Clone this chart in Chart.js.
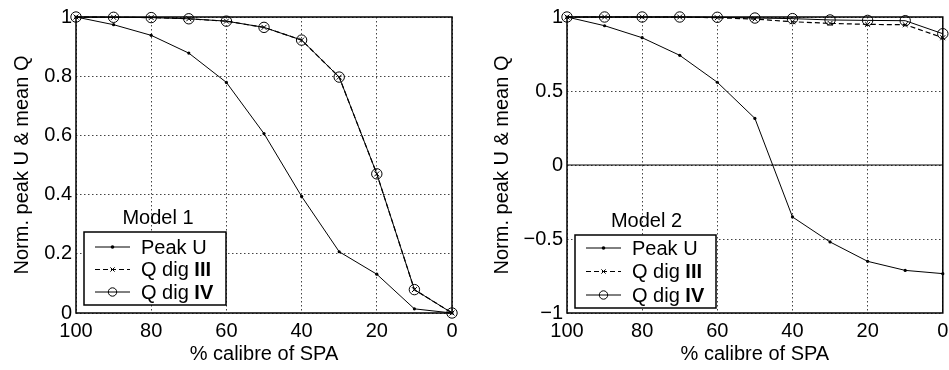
<!DOCTYPE html>
<html>
<head>
<meta charset="utf-8">
<script src="https://cdn.jsdelivr.net/npm/chart.js@4"></script>
<style>
  body { margin: 0; background: #fff; }
  #wrap { position: relative; width: 949px; height: 370px; }
  #c1 { position: absolute; left: 0; top: 0; }
  #c2 { position: absolute; left: 480px; top: 0; }
</style>
</head>
<body>
<div id="wrap">
  <canvas id="c1" width="480" height="370"></canvas>
  <canvas id="c2" width="469" height="370"></canvas>
</div>
<script>
// x axis: % calibre of SPA
const calibre = [100, 90, 80, 70, 60, 50, 40, 30, 20, 10, 0];

// Model 1
const m1PeakU = [1, 0.974, 0.938, 0.878, 0.779, 0.606, 0.394, 0.207, 0.131, 0.014, 0];
const m1QdigIII = [1, 0.999, 0.998, 0.994, 0.986, 0.965, 0.922, 0.797, 0.47, 0.079, 0];
const m1QdigIV = [1, 0.999, 0.998, 0.994, 0.986, 0.965, 0.922, 0.797, 0.47, 0.079, 0];

// Model 2
const m2PeakU = [1, 0.941, 0.86, 0.741, 0.559, 0.315, -0.351, -0.52, -0.651, -0.712, -0.734];
const m2QdigIII = [1, 1, 1, 1, 0.995, 0.986, 0.968, 0.957, 0.95, 0.948, 0.86];
const m2QdigIV = [1, 1, 1, 1, 0.998, 0.993, 0.989, 0.98, 0.977, 0.975, 0.887];

const m1YTicks = [0, 0.2, 0.4, 0.6, 0.8, 1];
const m2YTicks = [-1, -0.5, 0, 0.5, 1];
const xTicks = [100, 80, 60, 40, 20, 0];

const FONT = "'Liberation Sans', Arial, Helvetica, sans-serif";

function pts(ys) {
  return calibre.map((x, i) => ({ x: x, y: ys[i] }));
}

function makeDatasets(peak, q3, q4) {
  return [
    {
      label: "Peak U",
      data: pts(peak),
      borderColor: "#000",
      backgroundColor: "#000",
      borderWidth: 1,
      pointStyle: "circle",
      pointRadius: 1.6,
      pointBorderWidth: 0,
      tension: 0,
      clip: false,
    },
    {
      label: "Q dig III",
      data: pts(q3),
      borderColor: "#000",
      backgroundColor: "#000",
      borderWidth: 1.2,
      borderDash: [5, 3],
      pointStyle: "crossRot",
      pointRadius: 3.5,
      pointBorderWidth: 1,
      tension: 0,
      clip: false,
    },
    {
      label: "Q dig IV",
      data: pts(q4),
      borderColor: "#000",
      backgroundColor: "rgba(0,0,0,0)",
      borderWidth: 1,
      pointStyle: "circle",
      pointRadius: 5.2,
      pointBorderWidth: 1,
      tension: 0,
      clip: false,
    },
  ];
}

// frame around plot area + optional solid zero line
const framePlugin = {
  id: "frame",
  afterDatasetsDraw(chart, args, opts) {
    const { ctx, chartArea } = chart;
    ctx.save();
    if (opts.zeroLine) {
      const y0 = chart.scales.y.getPixelForValue(0);
      ctx.strokeStyle = "#000";
      ctx.lineWidth = 1;
      ctx.beginPath();
      ctx.moveTo(chartArea.left, y0);
      ctx.lineTo(chartArea.right, y0);
      ctx.stroke();
    }
    ctx.strokeStyle = "#000";
    ctx.lineWidth = 1.5;
    ctx.strokeRect(chartArea.left, chartArea.top, chartArea.right - chartArea.left, chartArea.bottom - chartArea.top);
    ctx.restore();
  },
};

// matlab-ish legend box with title above
const boxLegend = {
  id: "boxLegend",
  afterDraw(chart, args, opts) {
    const ctx = chart.ctx;
    const b = opts.box;
    ctx.save();
    ctx.fillStyle = "#fff";
    ctx.fillRect(b.x, b.y, b.w, b.h);
    ctx.strokeStyle = "#000";
    ctx.lineWidth = 1.5;
    ctx.strokeRect(b.x, b.y, b.w, b.h);

    ctx.fillStyle = "#000";
    ctx.font = "20px " + FONT;
    ctx.textAlign = "center";
    ctx.textBaseline = "middle";
    ctx.fillText(opts.title, b.x + b.w / 2 + opts.titleShift, b.y - 14);

    chart.data.datasets.forEach((ds, i) => {
      const y = b.y + opts.firstRow + i * opts.rowGap;
      const x0 = b.x + 11, x1 = b.x + 46;
      ctx.strokeStyle = "#000";
      ctx.lineWidth = 1;
      ctx.setLineDash(ds.borderDash || []);
      ctx.beginPath();
      ctx.moveTo(x0, y);
      ctx.lineTo(x1, y);
      ctx.stroke();
      ctx.setLineDash([]);
      if (ds.label === "Peak U") {
        ctx.fillStyle = "#000";
        ctx.beginPath();
        ctx.arc((x0 + x1) / 2, y, 1.8, 0, Math.PI * 2);
        ctx.fill();
      } else {
        ctx.fillStyle = "rgba(0,0,0,0)";
        Chart.helpers.drawPoint(ctx, {
          pointStyle: ds.pointStyle,
          radius: ds.label === "Q dig IV" ? 4.2 : 3,
          borderWidth: 1,
          rotation: 0,
        }, (x0 + x1) / 2, y);
      }

      ctx.fillStyle = "#000";
      ctx.textAlign = "left";
      let tx = b.x + 57;
      let base = ds.label, roman = "";
      const m = ds.label.match(/^(Q dig )(III|IV)$/);
      if (m) { base = m[1]; roman = m[2]; }
      ctx.font = "20px " + FONT;
      ctx.fillText(base, tx, y + 1);
      if (roman) {
        tx += ctx.measureText(base).width;
        ctx.font = "bold 20px " + FONT;
        ctx.fillText(roman, tx, y + 1);
      }
    });
    ctx.restore();
  },
};

function fmt(v) {
  return String(v).replace("-", "\u2212");
}

function makeChart(id, datasets, yMin, yMax, yTicks, legendOpts, zeroLine, padRight) {
  return new Chart(document.getElementById(id), {
    type: "line",
    data: { datasets: datasets },
    options: {
      responsive: false,
      animation: false,
      devicePixelRatio: 1,
      layout: { padding: { left: 0, right: padRight, top: 17, bottom: 0 } },
      plugins: {
        legend: { display: false },
        tooltip: { enabled: false },
        frame: { zeroLine: zeroLine },
        boxLegend: legendOpts,
      },
      scales: {
        x: {
          type: "linear",
          min: 0,
          max: 100,
          reverse: true,
          afterBuildTicks: (s) => { s.ticks = xTicks.map((v) => ({ value: v })); },
          afterFit: (s) => { s.height = 57; s.paddingLeft = 0; s.paddingRight = 0; },
          ticks: {
            color: "#000",
            font: { family: FONT, size: 20 },
            padding: 6,
            maxRotation: 0,
            callback: (v) => fmt(v),
          },
          grid: { color: "#444", lineWidth: 1, drawTicks: false },
          border: { display: false, dash: [1.5, 2.5] },
          title: {
            display: true,
            text: "% calibre of SPA",
            color: "#000",
            font: { family: FONT, size: 20 },
            padding: { top: 0, bottom: 4 },
          },
        },
        y: {
          type: "linear",
          min: yMin,
          max: yMax,
          afterBuildTicks: (s) => { s.ticks = yTicks.map((v) => ({ value: v })); },
          afterFit: (s) => { s.width = legendOpts.axisWidth; s.paddingTop = 0; s.paddingBottom = 0; },
          ticks: {
            color: "#000",
            font: { family: FONT, size: 20 },
            padding: 4,
            callback: (v) => fmt(v),
          },
          grid: { color: "#444", lineWidth: 1, drawTicks: false },
          border: { display: false, dash: [1.5, 2.5] },
          title: {
            display: true,
            text: "Norm. peak U & mean Q",
            color: "#000",
            font: { family: FONT, size: 20 },
            padding: { top: 10, bottom: 0 },
          },
        },
      },
    },
    plugins: [framePlugin, boxLegend],
  });
}

makeChart("c1", makeDatasets(m1PeakU, m1QdigIII, m1QdigIV), 0, 1, m1YTicks,
  { box: { x: 84, y: 232, w: 142, h: 73 }, title: "Model 1", titleShift: 3, firstRow: 15, rowGap: 22.5, axisWidth: 76 }, false, 28);

makeChart("c2", makeDatasets(m2PeakU, m2QdigIII, m2QdigIV), -1, 1, m2YTicks,
  { box: { x: 95, y: 235, w: 141, h: 73 }, title: "Model 2", titleShift: 1, firstRow: 13, rowGap: 23.5, axisWidth: 87 }, true, 6);
</script>
</body>
</html>
